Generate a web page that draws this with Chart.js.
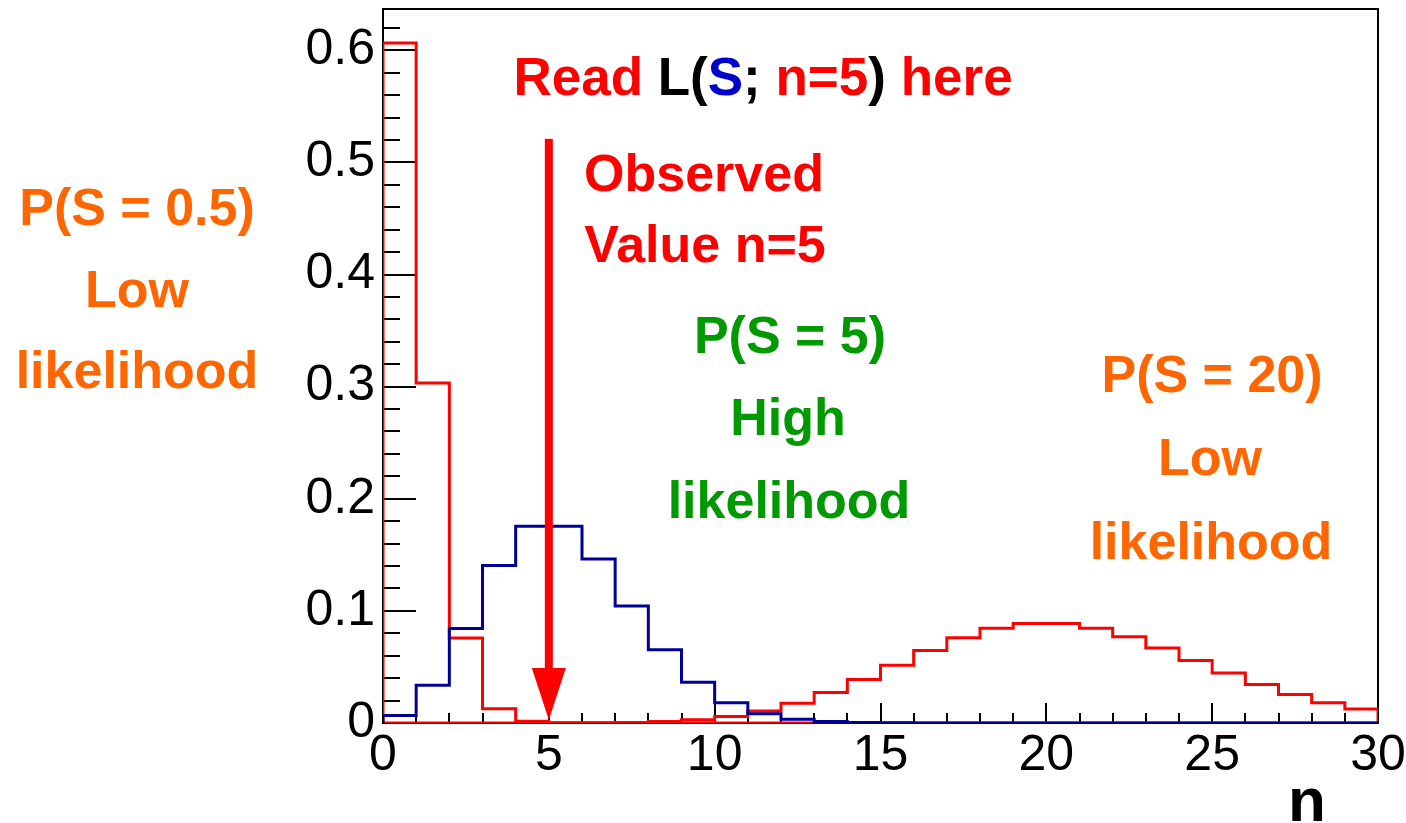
<!DOCTYPE html>
<html>
<head>
<meta charset="utf-8">
<script src="https://cdn.jsdelivr.net/npm/chart.js@4/dist/chart.umd.min.js"></script>
<style>
  html, body { margin: 0; padding: 0; background: #ffffff; }
  canvas { display: block; }
</style>
</head>
<body>
<canvas id="c" width="1406" height="823"></canvas>
<script>
// ---- Data ----
// bins n = 0 .. 29, each of width 1
const binLow = [0,1,2,3,4,5,6,7,8,9,10,11,12,13,14,15,16,17,18,19,20,21,22,23,24,25,26,27,28,29];
const probS05 = [0.6065,0.3033,0.0758,0.0126,0.0016,0.0002,0,0,0,0,0,0,0,0,0,0,0,0,0,0,0,0,0,0,0,0,0,0,0,0];
const probS5  = [0.0067,0.0337,0.0842,0.1404,0.1755,0.1755,0.1462,0.1044,0.0653,0.0363,0.0181,0.0082,0.0034,0.0013,0.0005,0.0002,0.0001,0,0,0,0,0,0,0,0,0,0,0,0,0];
const probS20 = [0,0,0,0,0,0.0001,0.0002,0.0005,0.0013,0.0029,0.0058,0.0106,0.0176,0.0271,0.0387,0.0516,0.0646,0.0760,0.0844,0.0888,0.0888,0.0846,0.0769,0.0669,0.0557,0.0446,0.0343,0.0254,0.0181,0.0125];
const xTickLabels = [0,5,10,15,20,25,30];
const yTickLabels = [0,0.1,0.2,0.3,0.4,0.5,0.6];
const observedN = 5;
const arrowTopValue = 0.521;
const xMin = 0, xMax = 30, yMin = 0, yMax = 0.6368;

// ---- helpers ----
function histPoints(vals) {
  const pts = [{x: binLow[0], y: 0}];
  vals.forEach((v, i) => pts.push({x: binLow[i], y: v}));
  pts.push({x: binLow[binLow.length - 1] + 1, y: vals[vals.length - 1]});
  pts.push({x: binLow[binLow.length - 1] + 1, y: 0});
  return pts;
}

const FONT = '"Liberation Sans", Arial, Helvetica, sans-serif';
const RED = '#ff0000', ORANGE = '#ff6600', GREEN = '#009900', BLUE_H = '#000099', BLUE_T = '#0000cc';

const overlay = {
  id: 'overlay',
  beforeDatasetsDraw(chart) {
    const ctx = chart.ctx, a = chart.chartArea;
    const xs = chart.scales.x, ys = chart.scales.y;
    ctx.save();
    ctx.strokeStyle = '#000';
    ctx.lineWidth = 2;
    // x ticks (inside, pointing up)
    for (let v = xMin; v <= xMax; v += 1) {
      const px = Math.round(xs.getPixelForValue(v));
      const len = (v % 5 === 0) ? 20 : 10;
      ctx.beginPath(); ctx.moveTo(px, a.bottom); ctx.lineTo(px, a.bottom - len); ctx.stroke();
    }
    // y ticks (inside, pointing right)
    for (let k = 0; k * 0.02 <= yMax + 1e-9; k++) {
      const v = k * 0.02;
      const py = Math.round(ys.getPixelForValue(v));
      const len = (k % 5 === 0) ? 33 : 17;
      ctx.beginPath(); ctx.moveTo(a.left, py); ctx.lineTo(a.left + len, py); ctx.stroke();
    }
    // frame
    ctx.strokeRect(a.left, a.top, a.right - a.left, a.bottom - a.top);
    ctx.restore();
  },
  afterDatasetsDraw(chart) {
    const ctx = chart.ctx;
    const xs = chart.scales.x, ys = chart.scales.y;
    ctx.save();
    // arrow at observed value
    const ax = xs.getPixelForValue(observedN);
    const yTop = ys.getPixelForValue(arrowTopValue);
    const yTip = ys.getPixelForValue(0) - 3;
    const headLen = 52, headW = 34;
    ctx.fillStyle = RED;
    ctx.fillRect(ax - 4, yTop, 8, (yTip - headLen) - yTop + 2);
    ctx.beginPath();
    ctx.moveTo(ax - headW / 2, yTip - headLen);
    ctx.lineTo(ax + headW / 2, yTip - headLen);
    ctx.lineTo(ax, yTip);
    ctx.closePath();
    ctx.fill();

    // texts
    ctx.font = 'bold 52px ' + FONT;
    ctx.textBaseline = 'alphabetic';
    ctx.textAlign = 'center';
    const lines = [
      ['P(S = 0.5)', 137, 225, ORANGE], ['Low', 137, 307, ORANGE], ['likelihood', 137, 388, ORANGE],
      ['Observed', 704, 191, RED], ['Value n=5', 705, 262, RED],
      ['P(S = 5)', 790, 353, GREEN], ['High', 788, 435, GREEN], ['likelihood', 789, 518, GREEN],
      ['P(S = 20)', 1212, 392, ORANGE], ['Low', 1210, 475, ORANGE], ['likelihood', 1211, 559, ORANGE]
    ];
    lines.forEach(([t, x, y, c]) => { ctx.fillStyle = c; ctx.fillText(t, x, y); });

    // rich title line
    ctx.font = 'bold 53px ' + FONT;
    const segs = [['Read ', RED], ['L(', '#000'], ['S', BLUE_T], [';', '#000'], [' n=5', RED], [')', '#000'], [' here', RED]];
    ctx.textAlign = 'left';
    const total = segs.reduce((s, [t]) => s + ctx.measureText(t).width, 0);
    let cx = 763 - total / 2;
    segs.forEach(([t, c]) => { ctx.fillStyle = c; ctx.fillText(t, cx, 95); cx += ctx.measureText(t).width; });

    // axis title
    ctx.font = 'bold 62px ' + FONT;
    ctx.fillStyle = '#000';
    ctx.textAlign = 'center';
    ctx.fillText('n', 1307, 821);
    ctx.restore();
  }
};

const common = { pointRadius: 0, borderWidth: 3, fill: false, tension: 0, stepped: 'before' };

new Chart(document.getElementById('c'), {
  type: 'line',
  data: {
    datasets: [
      Object.assign({ label: 'S = 5', data: histPoints(probS5), borderColor: BLUE_H, order: 0 }, common),
      Object.assign({ label: 'S = 0.5', data: histPoints(probS05), borderColor: RED, order: 1 }, common),
      Object.assign({ label: 'S = 20', data: histPoints(probS20), borderColor: RED, order: 2 }, common)
    ]
  },
  options: {
    responsive: false,
    animation: false,
    devicePixelRatio: 1,
    layout: { padding: { top: 9, right: 28, left: 0, bottom: 0 } },
    plugins: { legend: { display: false }, tooltip: { enabled: false } },
    scales: {
      x: {
        type: 'linear', min: xMin, max: xMax,
        grid: { display: false, drawTicks: false },
        border: { display: true, color: '#000', width: 2 },
        afterBuildTicks: s => { s.ticks = xTickLabels.map(v => ({ value: v })); },
        afterFit: s => { s.height = 100; s.paddingLeft = 0; s.paddingRight = 0; },
        ticks: {
          autoSkip: false, maxRotation: 0, padding: 3, color: '#000',
          font: { family: FONT, size: 50 },
          callback: v => String(v)
        }
      },
      y: {
        type: 'linear', min: yMin, max: yMax,
        grid: { display: false, drawTicks: false },
        border: { display: true, color: '#000', width: 2 },
        afterBuildTicks: s => { s.ticks = yTickLabels.map(v => ({ value: v })); },
        afterFit: s => { s.width = 383; s.paddingTop = 0; s.paddingBottom = 0; },
        ticks: {
          autoSkip: false, padding: 8, color: '#000',
          font: { family: FONT, size: 50 },
          callback: v => (v === 0 ? '0' : Number(v).toFixed(1))
        }
      }
    }
  },
  plugins: [overlay]
});
</script>
</body>
</html>
